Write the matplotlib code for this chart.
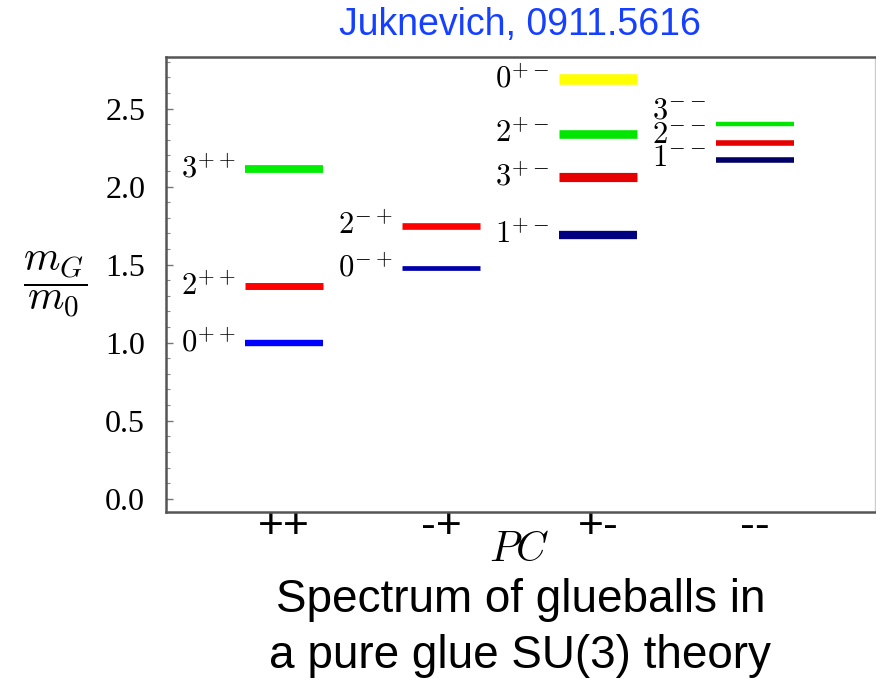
import matplotlib
matplotlib.use("Agg")
import matplotlib.pyplot as plt
from matplotlib.ticker import MultipleLocator

plt.rcParams['mathtext.fontset'] = 'cm'

# ---- data ----
categories = ["++", "-+", "+-", "--"]
# states per category: (label, mass ratio, colour)
states_pp = [("0", 1.00, "#0000ff"), ("2", 1.36, "#ff0000"), ("3", 2.11, "#00ee00")]
states_mp = [("0", 1.48, "#0000aa"), ("2", 1.75, "#ff0000")]
states_pm = [("1", 1.69, "#000080"), ("3", 2.06, "#e60000"), ("2", 2.34, "#00e600"), ("0", 2.69, "#ffff00")]
states_mm = [("1", 2.17, "#000066"), ("2", 2.28, "#e60000"), ("3", 2.40, "#00e600")]
superscripts = ["++", "-+", "+-", "--"]
all_states = [states_pp, states_mp, states_pm, states_mm]

# ---- style ----
lw_pp = [4.6, 5.0, 5.6]
lw_mp = [3.4, 4.8]
lw_pm = [6.0, 6.6, 6.2, 7.6]
lw_mm = [4.0, 4.0, 3.2]
all_lw = [lw_pp, lw_mp, lw_pm, lw_mm]
label_dy_mm = [2, 6, 10]  # points, to stack crowded labels

fig = plt.figure(figsize=(8.76, 6.79), dpi=100)
ax = fig.add_axes([0.1895, 0.2464, 0.8094, 0.6696])

half = 0.25
for i, (states, lws) in enumerate(zip(all_states, all_lw)):
    for j, ((lab, m, col), lw) in enumerate(zip(states, lws)):
        ax.hlines(m, i - half, i + half, colors=col, linewidth=lw)
        tex = "$" + lab + "^{" + superscripts[i] + "}$"
        dy = label_dy_mm[j] if i == 3 else 0
        ax.annotate(tex, xy=(i - half, m), xytext=(-7, dy), textcoords="offset points",
                    ha="right", va="center", fontsize=22, color="black")

ax.set_xlim(-0.752, 3.764)
ax.set_ylim(-0.083, 2.83)

ax.set_xticks(range(len(categories)))
ax.set_xticklabels(categories, fontsize=32, family="Liberation Sans")
ax.tick_params(axis="x", length=0, pad=-4)

ax.yaxis.set_major_locator(MultipleLocator(0.5))
ax.yaxis.set_minor_locator(MultipleLocator(0.1))
ax.set_yticks([0.0, 0.5, 1.0, 1.5, 2.0, 2.5])
ax.set_yticklabels(["0.0", "0.5", "1.0", "1.5", "2.0", "2.5"], fontsize=23, family="Liberation Serif")
ax.tick_params(axis="y", which="major", direction="in", length=5, width=1, color="#777777", pad=15)
ax.tick_params(axis="y", which="minor", direction="in", length=3, width=0.8, color="#888888")

for side in ["left", "bottom", "top"]:
    ax.spines[side].set_color("#555555")
    ax.spines[side].set_linewidth(1.8)
ax.spines["right"].set_color("#cccccc")
ax.spines["right"].set_linewidth(1.0)

fig.text(0.063, 0.581, r"$\dfrac{m_G}{m_0}$", fontsize=30, ha="center", va="center")
fig.text(0.593, 0.192, r"$PC$", fontsize=30, ha="center", va="center")

fig.text(0.594, 0.963, "Juknevich, 0911.5616", fontsize=27, color="#1540ff",
         ha="center", va="center", family="Liberation Sans")
fig.text(0.594, 0.075, "Spectrum of glueballs in\na pure glue SU(3) theory", fontsize=33,
         ha="center", va="center", family="Liberation Sans", linespacing=1.35)

fig.savefig("out.png", dpi=100)
